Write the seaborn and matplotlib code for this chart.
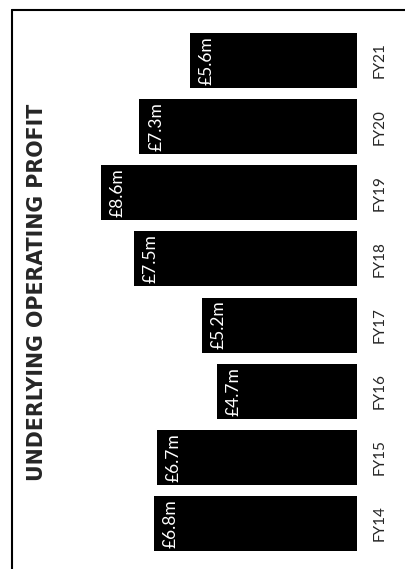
import matplotlib
matplotlib.use("Agg")
import matplotlib.pyplot as plt
from matplotlib.lines import Line2D
import seaborn as sns
import pandas as pd

years = ["FY21", "FY20", "FY19", "FY18", "FY17", "FY16", "FY15", "FY14"]
profit = [5.6, 7.3, 8.6, 7.5, 5.2, 4.7, 6.7, 6.8]
labels = ["£5.6m", "£7.3m", "£8.6m", "£7.5m", "£5.2m", "£4.7m", "£6.7m", "£6.8m"]

df = pd.DataFrame({"year": years, "profit": profit})

sns.set_style("white")
plt.rcParams["font.family"] = ["Lato", "DejaVu Sans"]

fig = plt.figure(figsize=(4.05, 5.69), dpi=100)
ax = fig.add_axes([0.1457, 0.0218, 0.7358, 0.930])

sns.barplot(data=df, x="profit", y="year", order=years, orient="h",
            color="black", width=0.83, saturation=1, edgecolor="none", ax=ax)

ax.set_xlim(10, 0)
ax.set_ylim(7.5, -0.5)

# value labels inside the bar ends
for i, (v, lab) in enumerate(zip(profit, labels)):
    ax.annotate(lab, xy=(v, i), xytext=(12, 0), textcoords="offset points",
                rotation=90, ha="center", va="center", color="white",
                fontsize=12.5, fontweight="normal")

# year labels on the right
ax.yaxis.tick_right()
ax.set_yticks(range(len(years)))
ax.set_yticklabels(years, rotation=90, va="center", fontsize=11)
ax.tick_params(axis="y", length=0, pad=11)
ax.set_xticks([])
ax.set_xlabel("")
ax.set_ylabel("")
sns.despine(ax=ax, left=True, bottom=True, right=True, top=True)

fig.text(0.091, 0.486, "UNDERLYING OPERATING PROFIT", rotation=90,
         ha="center", va="center", fontsize=14.8, fontweight="bold",
         family="DejaVu Sans")

# frame lines
x0 = 12 / 405
y0 = 1 - 10 / 569
fig.add_artist(Line2D([x0, x0], [0, y0], color="black", lw=1.5,
                      transform=fig.transFigure))
fig.add_artist(Line2D([x0, 1], [y0, y0], color="black", lw=1.5,
                      transform=fig.transFigure))

fig.savefig("out.png", dpi=100)
